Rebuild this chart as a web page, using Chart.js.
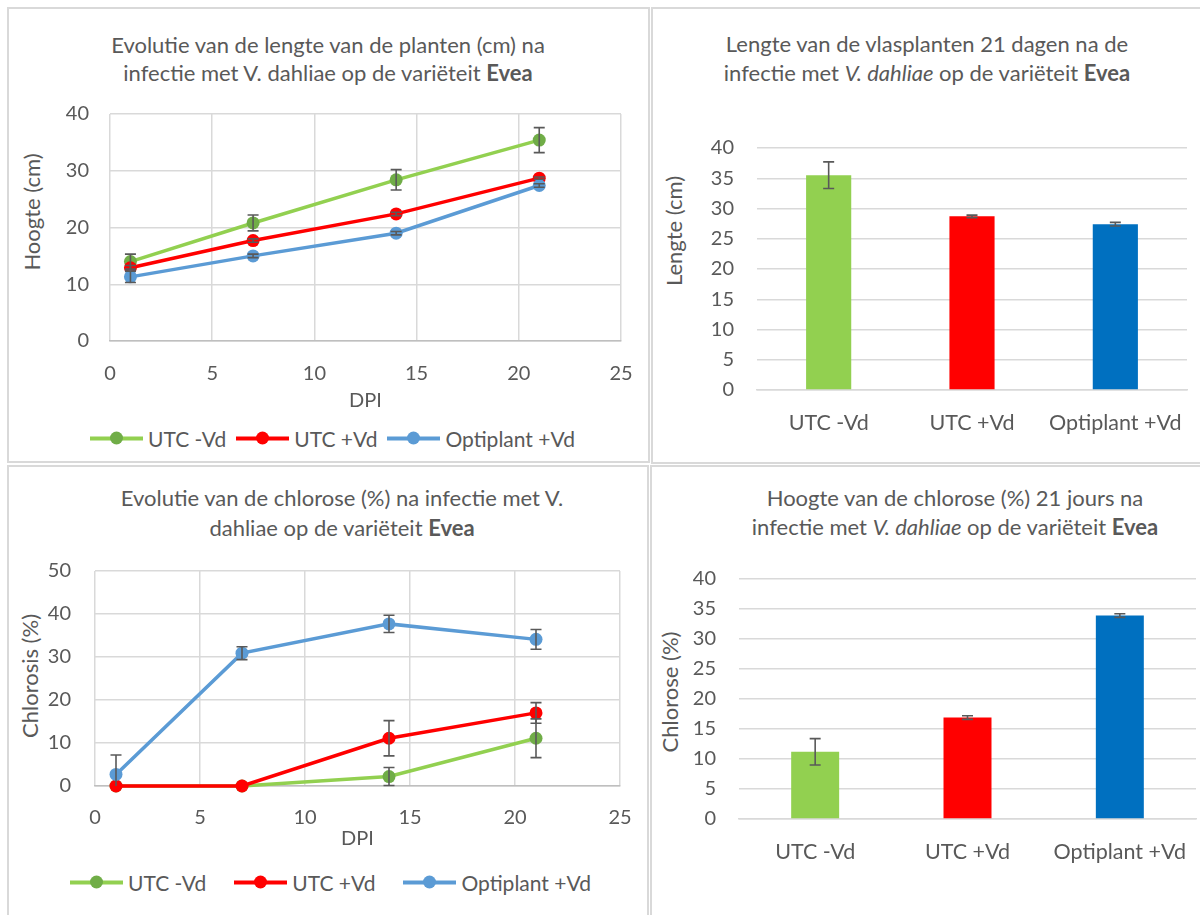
<!DOCTYPE html>
<html>
<head>
<meta charset="utf-8">
<script src="https://cdn.jsdelivr.net/npm/chart.js@4.4.0/dist/chart.umd.min.js"></script>
<style>
body{margin:0;width:1200px;height:915px;overflow:hidden;background:#fff;position:relative;font-family:Lato,'Open Sans',sans-serif;color:#595959}
.panel{position:absolute;box-sizing:border-box;border:2px solid #d9d9d9}
.title{position:absolute;font-size:22px;text-align:center;white-space:nowrap;transform:translateX(-50%)}
.ytitle{position:absolute;font-size:22px;white-space:nowrap;transform:translate(-50%,-50%) rotate(-90deg)}
.legend{position:absolute;display:flex;align-items:center;font-size:21px;white-space:nowrap;transform:translateY(-50%)}
.item{display:flex;align-items:center}
.sw{position:relative;width:53px;height:13px;margin-right:5px}
.sw i{position:absolute;left:0;right:0;top:4.5px;height:4px}
.sw b{position:absolute;left:20px;top:0;width:13px;height:13px;border-radius:50%}
canvas{position:absolute}
</style>
</head>
<body>
<div class="panel" style="left:7px;top:7px;width:643px;height:456px"></div>
<div class="panel" style="left:651px;top:7px;width:560px;height:457px"></div>
<div class="panel" style="left:7px;top:465px;width:642px;height:460px"></div>
<div class="panel" style="left:650px;top:465px;width:560px;height:460px"></div>

<div class="title" style="left:328px;top:31px;line-height:28px">Evolutie van de lengte van de planten (cm) na<br>infectie met V. dahliae op de variëteit <b>Evea</b></div>
<div class="title" style="left:927px;top:29px;line-height:29px">Lengte van de vlasplanten 21 dagen na de<br>infectie met <i>V. dahliae</i> op de variëteit <b>Evea</b></div>
<div class="title" style="left:342px;top:483px;line-height:30px">Evolutie van de chlorose (%) na infectie met V.<br>dahliae op de variëteit <b>Evea</b></div>
<div class="title" style="left:955px;top:483px;line-height:29px">Hoogte van de chlorose (%) 21 jours na<br>infectie met <i>V. dahliae</i> op de variëteit <b>Evea</b></div>

<div class="ytitle" style="left:31px;top:212px">Hoogte (cm)</div>
<div class="ytitle" style="left:673px;top:231px">Lengte (cm)</div>
<div class="ytitle" style="left:29px;top:676px">Chlorosis (%)</div>
<div class="ytitle" style="left:669px;top:692px">Chlorose (%)</div>

<div class="legend" id="legA" style="left:90px;top:438px"></div>
<div class="legend" id="legC" style="left:70px;top:882px"></div>

<canvas id="chartA" width="640" height="320" style="left:8px;top:95px"></canvas>
<canvas id="chartB" width="547" height="330" style="left:653px;top:120px"></canvas>
<canvas id="chartC" width="640" height="310" style="left:8px;top:550px"></canvas>
<canvas id="chartD" width="548" height="330" style="left:652px;top:555px"></canvas>

<script>
// series / categories
const seriesNames = ['UTC -Vd', 'UTC +Vd', 'Optiplant +Vd'];
const dpi = [1, 7, 14, 21];

// hoogte (cm) per DPI
const hoogteUtcMin = [14.0, 20.8, 28.4, 35.4];
const hoogteUtcMinErr = [1.3, 1.4, 1.8, 2.2];
const hoogteUtcPlus = [12.9, 17.7, 22.4, 28.7];
const hoogteUtcPlusErr = [0.4, 0.3, 0.3, 0.2];
const hoogteOpti = [11.3, 15.0, 19.0, 27.4];
const hoogteOptiErr = [1.0, 0.3, 0.3, 0.3];

// lengte 21 dagen (bar)
const lengte21 = [35.5, 28.7, 27.4];
const lengte21Err = [2.2, 0.2, 0.3];

// chlorose (%) per DPI
const chlUtcMin = [0, 0, 2.2, 11.1];
const chlUtcMinErr = [0, 0, 2.1, 4.5];
const chlUtcPlus = [0, 0, 11.1, 17.0];
const chlUtcPlusErr = [0, 0, 4.1, 2.4];
const chlOpti = [2.7, 30.9, 37.7, 34.1];
const chlOptiErr = [4.5, 1.5, 2.0, 2.3];

// chlorose 21 dagen (bar)
const chlorose21 = [11.2, 16.9, 33.9];
const chlorose21Err = [2.2, 0.3, 0.3];

const lineColors = ['#92D050', '#FF0000', '#5B9BD5'];
const markerColors = ['#70AD47', '#FF0000', '#5B9BD5'];
const barColors = ['#92D050', '#FF0000', '#0070C0'];
const txt = '#595959';
const gridCol = '#d9d9d9';
const fontFam = "Lato, 'Open Sans', sans-serif";

// error bars drawn on top of the datasets, kept inside the plot area
const errorBars = {
  id: 'errorBars',
  afterDatasetsDraw(chart) {
    const ctx = chart.ctx;
    const ys = chart.scales.y;
    const area = chart.chartArea;
    chart.data.datasets.forEach((ds, i) => {
      if (!ds.err) return;
      const meta = chart.getDatasetMeta(i);
      ctx.save();
      ctx.strokeStyle = '#595959';
      ctx.lineWidth = 1.6;
      meta.data.forEach((el, j) => {
        const e = ds.err[j];
        if (!e) return;
        const v = typeof ds.data[j] === 'object' ? ds.data[j].y : ds.data[j];
        const top = ys.getPixelForValue(v + e);
        const rawBot = ys.getPixelForValue(v - e);
        const bot = Math.min(rawBot, area.bottom);
        const x = el.x;
        ctx.beginPath();
        ctx.moveTo(x, top); ctx.lineTo(x, bot);
        ctx.moveTo(x - 5.5, top); ctx.lineTo(x + 5.5, top);
        if (rawBot <= area.bottom) {
          ctx.moveTo(x - 5.5, bot); ctx.lineTo(x + 5.5, bot);
        }
        ctx.stroke();
      });
      ctx.restore();
    });
  }
};

// fix the plot area: cv = canvas rect on page, plot = wanted plot rect on page
function frame(cv, plot, xh) {
  return {
    padding: {left: 0, top: plot.t - cv.t, right: cv.l + cv.w - plot.r, bottom: cv.t + cv.h - plot.b - xh},
    yw: plot.l - cv.l,
    xh: xh
  };
}

function fitX(f) {
  return s => { s.height = f.xh; s.paddingLeft = 0; s.paddingRight = 0; };
}
function fitY(f) {
  return s => { s.width = f.yw; s.paddingTop = 0; s.paddingBottom = 0; };
}

function lineChart(id, f, ymax, sets, tickPad) {
  const datasets = sets.map((s, k) => ({
    label: seriesNames[k],
    data: dpi.map((d, i) => ({x: d, y: s.vals[i]})),
    err: s.err,
    borderColor: lineColors[k],
    backgroundColor: markerColors[k],
    pointBackgroundColor: markerColors[k],
    pointBorderColor: markerColors[k],
    borderWidth: 3.5,
    pointRadius: 6.5,
    pointBorderWidth: 0,
    clip: false,
    order: 3 - k
  }));
  return new Chart(document.getElementById(id), {
    type: 'line',
    data: {datasets: datasets},
    options: {
      responsive: false,
      animation: false,
      events: [],
      layout: {padding: f.padding},
      plugins: {legend: {display: false}, tooltip: {enabled: false}},
      scales: {
        x: {
          type: 'linear', min: 0, max: 25,
          ticks: {stepSize: 5, color: txt, font: {family: fontFam, size: 20}, padding: tickPad.x},
          grid: {color: gridCol, lineWidth: 1.5, drawTicks: false},
          border: {color: '#bfbfbf', width: 1.5},
          title: {display: true, text: 'DPI', color: txt, font: {family: fontFam, size: 20}, padding: 0},
          afterFit: fitX(f)
        },
        y: {
          min: 0, max: ymax,
          ticks: {stepSize: 10, color: txt, font: {family: fontFam, size: 20}, padding: tickPad.y},
          grid: {color: gridCol, lineWidth: 1.5, drawTicks: false},
          border: {display: false},
          afterFit: fitY(f)
        }
      }
    },
    plugins: [errorBars]
  });
}

function barChart(id, f, vals, err, tickPad) {
  return new Chart(document.getElementById(id), {
    type: 'bar',
    data: {
      labels: seriesNames,
      datasets: [{
        data: vals,
        err: err,
        backgroundColor: barColors,
        categoryPercentage: 1,
        barPercentage: 0.315
      }]
    },
    options: {
      responsive: false,
      animation: false,
      events: [],
      layout: {padding: f.padding},
      plugins: {legend: {display: false}, tooltip: {enabled: false}},
      scales: {
        x: {
          ticks: {color: txt, font: {family: fontFam, size: 21.5}, padding: tickPad.x},
          grid: {display: false},
          border: {color: gridCol, width: 1.5},
          afterFit: fitX(f)
        },
        y: {
          min: 0, max: 40,
          ticks: {stepSize: 5, color: txt, font: {family: fontFam, size: 20}, padding: tickPad.y},
          grid: {color: gridCol, lineWidth: 1.5, drawTicks: false},
          border: {display: false},
          afterFit: fitY(f)
        }
      }
    },
    plugins: [errorBars]
  });
}

lineChart('chartA',
  frame({l: 8, t: 95, w: 640, h: 320}, {l: 110, t: 114, r: 621, b: 341}, 72),
  40,
  [{vals: hoogteUtcMin, err: hoogteUtcMinErr}, {vals: hoogteUtcPlus, err: hoogteUtcPlusErr}, {vals: hoogteOpti, err: hoogteOptiErr}],
  {x: 21, y: 21});

barChart('chartB',
  frame({l: 653, t: 120, w: 547, h: 330}, {l: 757, t: 148, r: 1187, b: 390}, 55),
  lengte21, lengte21Err, {x: 12, y: 23});

lineChart('chartC',
  frame({l: 8, t: 550, w: 640, h: 310}, {l: 95, t: 571, r: 620, b: 786}, 65),
  50,
  [{vals: chlUtcMin, err: chlUtcMinErr}, {vals: chlUtcPlus, err: chlUtcPlusErr}, {vals: chlOpti, err: chlOptiErr}],
  {x: 20, y: 24});

barChart('chartD',
  frame({l: 652, t: 555, w: 548, h: 330}, {l: 739, t: 579, r: 1196, b: 819}, 55),
  chlorose21, chlorose21Err, {x: 12, y: 23});

// legends for the two line charts
function legend(id, gap) {
  const el = document.getElementById(id);
  el.style.gap = gap + 'px';
  seriesNames.forEach((n, k) => {
    const it = document.createElement('div');
    it.className = 'item';
    it.innerHTML = '<span class="sw"><i style="background:' + lineColors[k] + '"></i><b style="background:' + markerColors[k] + '"></b></span><span>' + n + '</span>';
    el.appendChild(it);
  });
}
legend('legA', 10);
legend('legC', 28);
</script>
</body>
</html>
